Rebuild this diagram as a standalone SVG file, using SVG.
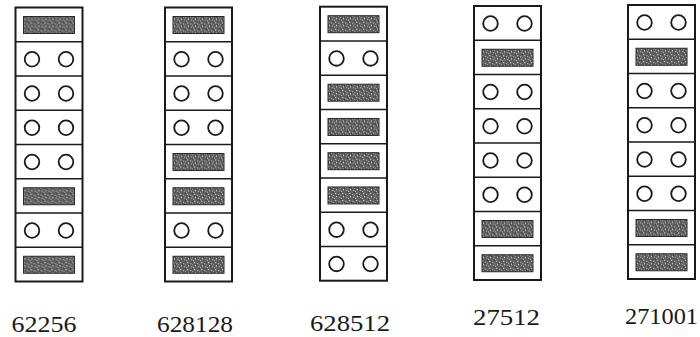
<svg xmlns="http://www.w3.org/2000/svg" xmlns:xlink="http://www.w3.org/1999/xlink" width="700" height="337" viewBox="0 0 700 337">
<style>
.box{fill:none;stroke:#1a1a1a;stroke-width:2}
.div{stroke:#1a1a1a;stroke-width:1.6}
.hole{fill:none;stroke:#1a1a1a;stroke-width:1.8}
.bar{fill:url(#speckle);stroke:#2a2a2a;stroke-width:1}
.lbl{font-family:"Liberation Serif","DejaVu Serif",serif;font-size:23px;fill:#1a1a1a}
</style>
<defs>
<pattern id="speckle" width="7" height="7" patternUnits="userSpaceOnUse">
<rect width="7" height="7" fill="#5e5e5e"/>
<rect x="1" y="1" width="1.3" height="1" fill="#d0d0d0"/>
<rect x="4" y="2" width="1.2" height="1" fill="#b8b8b8"/>
<rect x="2" y="4" width="1" height="1.3" fill="#d8d8d8"/>
<rect x="5" y="5" width="1.2" height="1" fill="#b0b0b0"/>
<rect x="0" y="6" width="1" height="1" fill="#c4c4c4"/>
<rect x="6" y="3" width="1" height="1" fill="#a0a0a0"/>
<rect x="6" y="0" width="1" height="1" fill="#3a3a3a"/>
<rect x="3" y="3" width="1" height="1" fill="#3a3a3a"/>
</pattern>
<g id="slotS"><rect class="bar" x="8" y="9" width="51" height="17"/></g>
<g id="slotO"><circle class="hole" cx="16.5" cy="17.5" r="7.3"/><circle class="hole" cx="50.5" cy="17.5" r="7.3"/></g>
<g id="frame">
<rect class="box" x="0" y="0" width="67" height="274"/>
<path class="div" d="M0 34.25H67M0 68.5H67M0 102.75H67M0 137H67M0 171.25H67M0 205.5H67M0 239.75H67"/>
</g>
</defs>
<g id="connectors"/>
<g id="chip-62256" transform="translate(15.5 7.5)">
<use href="#frame"/>
<use href="#slotS" y="0"/><use href="#slotO" y="34.25"/><use href="#slotO" y="68.5"/><use href="#slotO" y="102.75"/>
<use href="#slotO" y="137"/><use href="#slotS" y="171.25"/><use href="#slotO" y="205.5"/><use href="#slotS" y="239.75"/>
<text class="lbl" x="-4" y="324" textLength="65" lengthAdjust="spacingAndGlyphs">62256</text>
</g>
<g id="chip-628128" transform="translate(165 7.5)">
<use href="#frame"/>
<use href="#slotS" y="0"/><use href="#slotO" y="34.25"/><use href="#slotO" y="68.5"/><use href="#slotO" y="102.75"/>
<use href="#slotS" y="137"/><use href="#slotS" y="171.25"/><use href="#slotO" y="205.5"/><use href="#slotS" y="239.75"/>
<text class="lbl" x="-8" y="324" textLength="76" lengthAdjust="spacingAndGlyphs">628128</text>
</g>
<g id="chip-628512" transform="translate(320 6.7)">
<use href="#frame"/>
<use href="#slotS" y="0"/><use href="#slotO" y="34.25"/><use href="#slotS" y="68.5"/><use href="#slotS" y="102.75"/>
<use href="#slotS" y="137"/><use href="#slotS" y="171.25"/><use href="#slotO" y="205.5"/><use href="#slotO" y="239.75"/>
<text class="lbl" x="-10" y="324.5" textLength="80" lengthAdjust="spacingAndGlyphs">628512</text>
</g>
<g id="chip-27512" transform="translate(474 6)">
<use href="#frame"/>
<use href="#slotO" y="0"/><use href="#slotS" y="34.25"/><use href="#slotO" y="68.5"/><use href="#slotO" y="102.75"/>
<use href="#slotO" y="137"/><use href="#slotO" y="171.25"/><use href="#slotS" y="205.5"/><use href="#slotS" y="239.75"/>
<text class="lbl" x="-1" y="319" textLength="67" lengthAdjust="spacingAndGlyphs">27512</text>
</g>
<g id="chip-271001" transform="translate(628 5)">
<use href="#frame"/>
<use href="#slotO" y="0"/><use href="#slotS" y="34.25"/><use href="#slotO" y="68.5"/><use href="#slotO" y="102.75"/>
<use href="#slotO" y="137"/><use href="#slotO" y="171.25"/><use href="#slotS" y="205.5"/><use href="#slotS" y="239.75"/>
<text class="lbl" x="-3" y="319" textLength="73" lengthAdjust="spacingAndGlyphs">271001</text>
</g>
</svg>
